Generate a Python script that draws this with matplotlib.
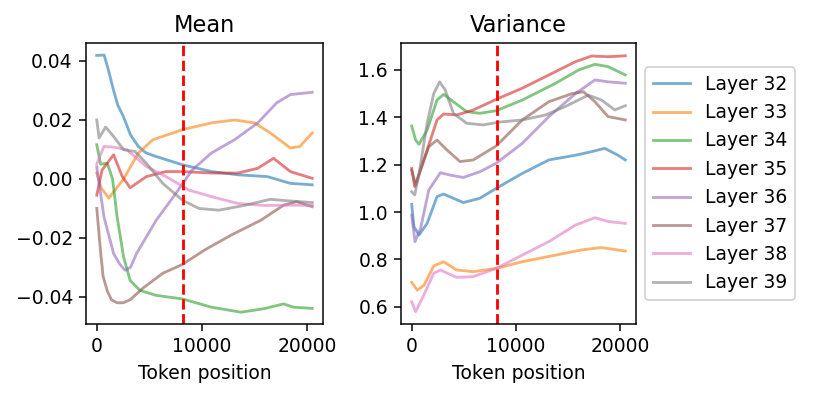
import matplotlib
matplotlib.use("Agg")
import matplotlib.pyplot as plt

layers = [32, 33, 34, 35, 36, 37, 38, 39]
cutoff = 8192

# mean per layer: (token positions, values)
mean_x = {
    32: [0, 700, 1100, 1600, 2000, 2550, 3200, 3950, 4700, 5650, 8140, 10900, 13400, 16200, 18400, 20480],
    33: [0, 400, 1150, 2550, 3950, 5340, 8140, 10900, 13100, 15000, 16500, 18400, 19300, 20480],
    34: [0, 370, 1000, 1500, 1930, 2550, 3170, 4100, 5650, 8140, 10900, 13700, 15900, 17760, 18700, 20480],
    35: [0, 500, 1600, 2400, 3170, 4720, 6580, 8140, 10900, 13400, 15300, 16800, 18400, 20480],
    36: [0, 680, 1600, 2200, 2700, 3200, 3780, 5650, 7500, 9060, 10900, 13100, 15300, 17100, 18400, 20480],
    37: [0, 370, 600, 1000, 1400, 1930, 2500, 3170, 4400, 6270, 8140, 10300, 12800, 15600, 17760, 19000, 20480],
    38: [0, 680, 1600, 2860, 4720, 6580, 8760, 10900, 13400, 15900, 18400, 20480],
    39: [0, 220, 840, 1600, 2550, 3630, 4720, 6270, 8140, 9700, 11600, 14000, 16500, 18400, 20480],
}
mean_y = {
    32: [0.0419, 0.0420, 0.0370, 0.0300, 0.0250, 0.0210, 0.0150, 0.0110, 0.0088, 0.0076, 0.0048, 0.0025, 0.0014, 0.0008, -0.0015, -0.0020],
    33: [0.0020, -0.0030, -0.0065, 0.0000, 0.0088, 0.0133, 0.0167, 0.0190, 0.0200, 0.0190, 0.0156, 0.0105, 0.0110, 0.0156],
    34: [0.0116, 0.0050, 0.0053, 0.0000, -0.0128, -0.0265, -0.0344, -0.0378, -0.0395, -0.0407, -0.0435, -0.0452, -0.0440, -0.0424, -0.0435, -0.0439],
    35: [-0.0055, 0.0030, 0.0082, 0.0010, -0.0030, 0.0008, 0.0025, 0.0025, 0.0020, 0.0020, 0.0036, 0.0070, 0.0025, 0.0002],
    36: [0.0040, -0.0128, -0.0253, -0.0290, -0.0310, -0.0300, -0.0253, -0.0140, -0.0050, 0.0030, 0.0088, 0.0133, 0.0190, 0.0258, 0.0286, 0.0294],
    37: [-0.0100, -0.0250, -0.0330, -0.0380, -0.0410, -0.0420, -0.0420, -0.0410, -0.0370, -0.0320, -0.0290, -0.0240, -0.0190, -0.0140, -0.0089, -0.0077, -0.0094],
    38: [0.0050, 0.0110, 0.0108, 0.0099, 0.0042, 0.0008, -0.0038, -0.0060, -0.0083, -0.0090, -0.0089, -0.0090],
    39: [0.0200, 0.0139, 0.0176, 0.0144, 0.0099, 0.0093, 0.0053, -0.0015, -0.0072, -0.0100, -0.0106, -0.0090, -0.0069, -0.0075, -0.0080],
}

# variance per layer
var_x = {
    32: [0, 220, 700, 1480, 2430, 3060, 4950, 6530, 8100, 10600, 13150, 15700, 17250, 18500, 19780, 20480],
    33: [0, 540, 1170, 2110, 3060, 4320, 5900, 8100, 10600, 13800, 16300, 18200, 20480],
    34: [0, 380, 700, 1480, 2430, 3060, 4000, 5270, 6530, 8100, 10600, 13800, 16000, 17570, 18830, 20480],
    35: [0, 290, 700, 1480, 2430, 3060, 4320, 5900, 8100, 10600, 13150, 15700, 17250, 18830, 20480],
    36: [0, 320, 850, 1640, 2750, 3690, 4950, 6530, 8100, 10600, 13150, 15700, 17570, 18830, 20480],
    37: [0, 380, 850, 1640, 2430, 3380, 4640, 5900, 8100, 10600, 13150, 15360, 16470, 17570, 18830, 20480],
    38: [0, 380, 1170, 2110, 2750, 4320, 5900, 8100, 10600, 13150, 15700, 17570, 18830, 20480],
    39: [0, 290, 700, 1480, 2110, 2680, 3220, 4000, 5270, 6850, 8420, 10600, 12830, 14700, 16940, 18200, 19470, 20480],
}
var_y = {
    32: [1.032, 0.938, 0.903, 0.952, 1.065, 1.076, 1.040, 1.058, 1.100, 1.163, 1.220, 1.240, 1.255, 1.269, 1.240, 1.220],
    33: [0.703, 0.670, 0.690, 0.772, 0.790, 0.755, 0.748, 0.762, 0.790, 0.818, 0.840, 0.850, 0.835],
    34: [1.363, 1.304, 1.286, 1.346, 1.473, 1.497, 1.466, 1.424, 1.417, 1.428, 1.473, 1.544, 1.600, 1.624, 1.614, 1.579],
    35: [1.184, 1.107, 1.160, 1.262, 1.389, 1.414, 1.410, 1.431, 1.476, 1.523, 1.579, 1.635, 1.659, 1.656, 1.660],
    36: [0.987, 0.875, 0.930, 1.093, 1.166, 1.156, 1.146, 1.170, 1.206, 1.290, 1.403, 1.500, 1.558, 1.550, 1.544],
    37: [1.177, 1.114, 1.177, 1.276, 1.304, 1.262, 1.213, 1.220, 1.279, 1.389, 1.466, 1.500, 1.508, 1.466, 1.403, 1.389],
    38: [0.621, 0.579, 0.650, 0.741, 0.755, 0.724, 0.727, 0.762, 0.818, 0.875, 0.945, 0.976, 0.960, 0.952],
    39: [1.086, 1.072, 1.160, 1.375, 1.500, 1.550, 1.515, 1.417, 1.375, 1.368, 1.380, 1.389, 1.410, 1.445, 1.494, 1.473, 1.431, 1.449],
}

DPI = 135
fig = plt.figure(figsize=(814 / DPI, 397 / DPI), dpi=DPI)
ax1 = fig.add_axes([86 / 814, 1 - 324 / 397, 237 / 814, 281 / 397])
ax2 = fig.add_axes([401 / 814, 1 - 324 / 397, 235 / 814, 281 / 397])

for layer in layers:
    ax1.plot(mean_x[layer], mean_y[layer], alpha=0.6, lw=1.5, label=f"Layer {layer}")
    ax2.plot(var_x[layer], var_y[layer], alpha=0.6, lw=1.5, label=f"Layer {layer}")

for ax, title in [(ax1, "Mean"), (ax2, "Variance")]:
    ax.axvline(cutoff, color="red", linestyle="--", lw=1.5)
    ax.set_title(title, fontsize=12)
    ax.set_xlabel("Token position")
    ax.set_xticks([0, 10000, 20000])

ax1.set_yticks([0.04, 0.02, 0.00, -0.02, -0.04])
ax1.set_ylim(-0.0492, 0.0461)
ax2.set_ylim(0.527, 1.714)

ax2.legend(loc="center left", bbox_to_anchor=(1.0, 0.5))

fig.savefig("out.png", dpi=DPI)
